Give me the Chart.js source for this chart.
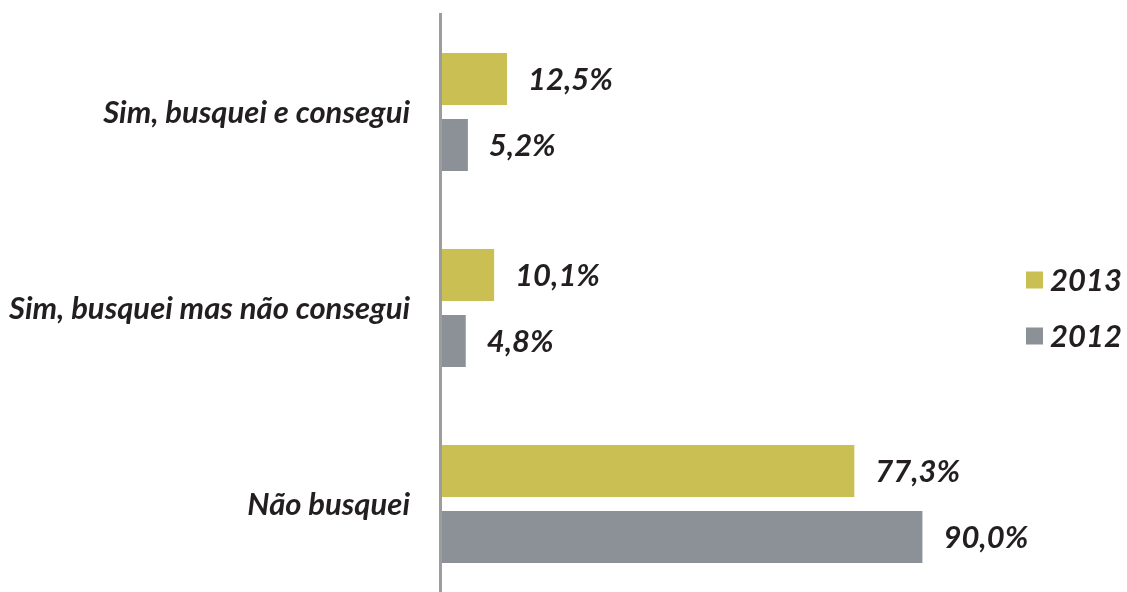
<!DOCTYPE html>
<html>
<head>
<meta charset="utf-8">
<script src="https://cdn.jsdelivr.net/npm/chart.js@4.4.1/dist/chart.umd.min.js"></script>
<style>
  html, body { margin: 0; padding: 0; background: #ffffff; overflow: hidden; }
  #wrap { width: 1127px; height: 592px; overflow: hidden; }
</style>
</head>
<body>
<div id="wrap"><canvas id="c" width="1127" height="602"></canvas></div>
<script>
const categories = ['Sim, busquei e consegui', 'Sim, busquei mas não consegui', 'Não busquei'];
const seriesNames = ['2013', '2012'];
const values2013 = [12.5, 10.1, 77.3];
const values2012 = [5.2, 4.8, 90.0];

const COLOR_2013 = '#c9bf52';
const COLOR_2012 = '#8c9097';
const TEXT = '#231f20';
const FONT = 'Lato, "Open Sans", sans-serif';
const FONT_CSS = 'italic bold 31px ' + FONT;

const fmt = v => v.toFixed(1).replace('.', ',') + '%';

// Category names, right-aligned against the axis line
const categoryLabels = {
  id: 'categoryLabels',
  afterDraw(chart) {
    const ctx = chart.ctx;
    const y = chart.scales.y;
    ctx.save();
    ctx.font = FONT_CSS;
    ctx.fillStyle = TEXT;
    ctx.textAlign = 'right';
    ctx.textBaseline = 'middle';
    chart.data.labels.forEach((lab, i) => {
      ctx.fillText(lab, chart.chartArea.left - 30, y.getPixelForTick(i) + 1);
    });
    ctx.restore();
  }
};

// Value labels to the right of each bar
const valueLabels = {
  id: 'valueLabels',
  afterDatasetsDraw(chart) {
    const ctx = chart.ctx;
    ctx.save();
    ctx.font = FONT_CSS;
    ctx.fillStyle = TEXT;
    ctx.textAlign = 'left';
    ctx.textBaseline = 'middle';
    chart.data.datasets.forEach((ds, i) => {
      chart.getDatasetMeta(i).data.forEach((el, j) => {
        ctx.fillText(fmt(ds.data[j]), el.x + 21, el.y + 1);
      });
    });
    ctx.restore();
  }
};

// Legend on the right, square swatches
const sideLegend = {
  id: 'sideLegend',
  afterDraw(chart) {
    const ctx = chart.ctx;
    ctx.save();
    ctx.font = FONT_CSS;
    ctx.textAlign = 'left';
    ctx.textBaseline = 'middle';
    const x = 1026, ys = [280, 336];
    chart.data.datasets.forEach((ds, i) => {
      ctx.fillStyle = ds.backgroundColor;
      ctx.fillRect(x, ys[i] - 8.5, 17, 17);
      ctx.fillStyle = TEXT;
      ctx.fillText(ds.label, x + 24, ys[i] + 1);
    });
    ctx.restore();
  }
};

new Chart(document.getElementById('c'), {
  type: 'bar',
  data: {
    labels: categories,
    datasets: [
      { label: seriesNames[0], data: values2013, backgroundColor: COLOR_2013 },
      { label: seriesNames[1], data: values2012, backgroundColor: COLOR_2012 }
    ]
  },
  options: {
    indexAxis: 'y',
    responsive: false,
    animation: false,
    categoryPercentage: 0.673,
    barPercentage: 0.788,
    layout: { padding: { top: 14, right: 151, bottom: 0, left: 0 } },
    plugins: {
      legend: { display: false },
      tooltip: { enabled: false }
    },
    scales: {
      x: { display: false, min: 0, max: 100 },
      y: {
        grid: { display: false, drawTicks: false },
        border: { display: true, color: '#9d9d9d', width: 3, z: 1 },
        afterFit(scale) { scale.width = 440; },
        ticks: { display: false }
      }
    }
  },
  plugins: [categoryLabels, valueLabels, sideLegend]
});
</script>
</body>
</html>
